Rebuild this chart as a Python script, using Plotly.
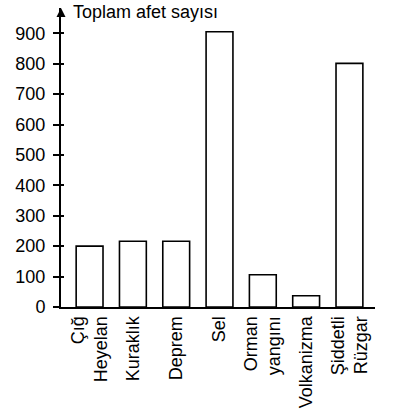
import plotly.graph_objects as go

categories = ["Çığ<br>Heyelan", "Kuraklık", "Deprem", "Sel", "Orman<br>yangını", "Volkanizma", "Şiddetli<br>Rüzgar"]
values = [200, 216, 216, 905, 106, 37, 801]
y_ticks = [0, 100, 200, 300, 400, 500, 600, 700, 800, 900]
y_title = "Toplam afet sayısı"

FONT = "Liberation Sans, Arial, sans-serif"
FS = 18

fig = go.Figure()
fig.add_trace(go.Bar(
    x=list(range(len(categories))), y=values, width=0.62,
    marker=dict(color="white", line=dict(color="black", width=1.6)),
    showlegend=False, hoverinfo="skip",
))
fig.add_trace(go.Scatter(x=[0], y=[0], yaxis="y2", mode="markers",
                         marker=dict(opacity=0), showlegend=False, hoverinfo="skip"))

yr = [0, 983]
fig.update_layout(
    width=399, height=415,
    margin=dict(l=61, r=24, t=8, b=108, autoexpand=False),
    paper_bgcolor="white", plot_bgcolor="white",
    font=dict(family=FONT, size=FS, color="black"),
    xaxis=dict(
        range=[-0.66, 6.59], automargin=False,
        tickmode="array", tickvals=list(range(len(categories))), ticktext=categories,
        tickangle=-90, ticks="", showline=True, linecolor="black", linewidth=2,
        showgrid=False, zeroline=False, tickfont=dict(size=FS, family=FONT),
    ),
    yaxis=dict(
        range=yr, tickmode="array", tickvals=y_ticks, automargin=False,
        ticks="outside", ticklen=6, tickwidth=1.5, tickcolor="black",
        showline=True, linecolor="black", linewidth=2,
        showgrid=False, zeroline=False, ticklabelstandoff=4,
        tickfont=dict(size=FS, family=FONT),
    ),
    yaxis2=dict(
        range=yr, overlaying="y", side="left", tickmode="array", tickvals=y_ticks,
        ticks="inside", ticklen=3, tickwidth=1.5, tickcolor="black", automargin=False,
        showticklabels=False, showline=False, showgrid=False, zeroline=False,
    ),
    annotations=[
        dict(x=0, y=1.0, xref="paper", yref="paper", ax=0, ay=8, axref="pixel", ayref="pixel",
             showarrow=True, arrowhead=2, arrowsize=1.2, arrowwidth=1.5, arrowcolor="black", text=""),
        dict(x=0, y=1.0, xref="paper", yref="paper", xanchor="left", yanchor="middle",
             xshift=10, yshift=-4, showarrow=False, text=y_title,
             font=dict(size=FS, family=FONT, color="black")),
    ],
)

fig.write_html("out.html", config={"displayModeBar": False},
               post_script="document.body.style.margin='0';")
